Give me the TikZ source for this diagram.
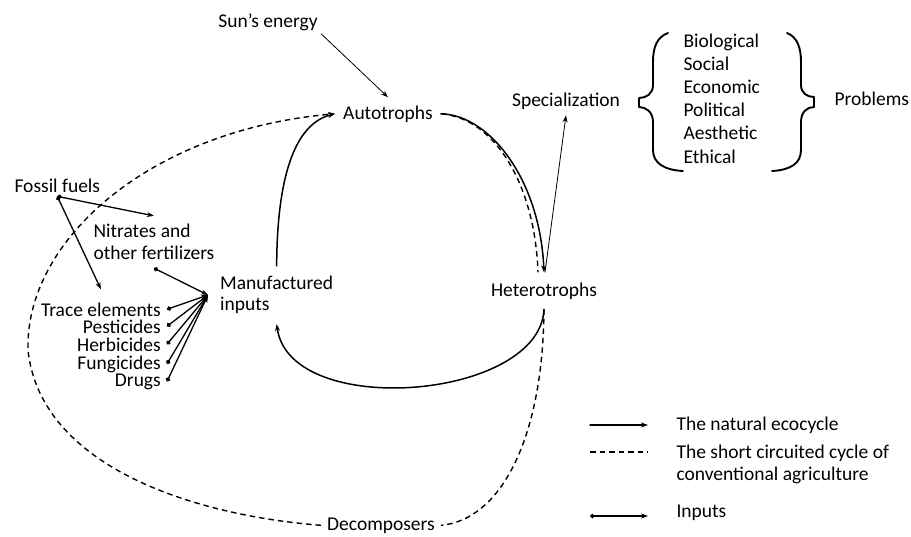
\documentclass[tikz,border=0pt]{standalone}
\usepackage{fontspec}
\setmainfont{Carlito}
\usetikzlibrary{arrows.meta}
\begin{document}
\begin{tikzpicture}[x=1pt, y=-1pt, font=\fontsize{19.5}{23.2}\selectfont, line join=round, line cap=round,
  >={Stealth[length=7pt,width=5pt]},
  cyc/.style={line width=1.5pt,->},
  thinarr/.style={line width=0.8pt,->},
  short/.style={line width=1.4pt,line cap=butt,dash pattern=on 5.5pt off 4pt},
  input/.style={line width=1.3pt,{Circle[length=4.5pt]}->},
  item/.style={anchor=base east, inner xsep=6pt},
  brace/.style={line width=1.9pt}]
\useasboundingbox (0,0) rectangle (911,536);
\node[anchor=base] (sun) at (268,27) {Sun’s energy};
\node[anchor=base, inner xsep=8pt, inner ysep=8pt] (auto) at (388,119) {Autotrophs};
\node[anchor=base, inner ysep=10pt] (hetero) at (544,296) {Heterotrophs};
\node[anchor=base, inner ysep=6pt] (spec) at (566,106) {Specialization};
\node[anchor=base, inner xsep=6pt] (decomp) at (381,530) {Decomposers};
\node[anchor=west, align=left, inner xsep=12pt, inner ysep=10pt] (manuf) at (208,295) {Manufactured\\[-2pt]inputs};
\node[anchor=base west, inner ysep=4pt] (fossil) at (11,192) {Fossil fuels};
\node[anchor=west, align=left, inner ysep=8pt] (nitr) at (90,242) {Nitrates and\\[-1pt]other fertilizers};
\node[item, inner ysep=13pt] (trace) at (167,316) {Trace elements};
\node[item] (pest) at (167,333) {Pesticides};
\node[item] (herb) at (167,351) {Herbicides};
\node[item] (fung) at (167,369) {Fungicides};
\node[item] (drugs) at (167,386) {Drugs};
\node[anchor=north west, align=left] (list) at (680,30) {Biological\\Social\\Economic\\Political\\Aesthetic\\Ethical};
\node[anchor=base west] (probl) at (831,105) {Problems};
\node[anchor=base west] (legNat) at (673,430) {The natural ecocycle};
\node[anchor=north west, align=left, inner ysep=0pt] (legShort) at (673,445) {The short circuited cycle of\\[-1pt]conventional agriculture};
\node[anchor=base west] (legIn) at (673,517) {Inputs};

\draw[thinarr] (sun.south east) -- (auto.north);
\draw[cyc] (manuf.north) .. controls (277,190) and (290,125) .. (auto.west);
\draw[cyc] (auto.east) .. controls (490,115) and (540,180) .. (hetero.north);
\draw[short] (auto.east) .. controls (495,118) and (535,185) .. ([xshift=-6pt]hetero.north);
\draw[cyc] (hetero.south) .. controls (540,400) and (290,420) .. (manuf.south);
\draw[short] (hetero.south) .. controls (543,440) and (500,520) .. (decomp.east);
\draw[short,->] (decomp.west) .. controls (190,515) and (40,465) .. (28,350)
  .. controls (25,240) and (150,130) .. (auto.west);
\draw[thinarr] ([xshift=1pt]hetero.north) -- (spec.south);

\draw[input] (fossil.south) -- (nitr.north);
\draw[input] (fossil.south) -- (trace.north);
\draw[input] (nitr.south) -- (manuf.west);
\foreach \n in {trace,pest,herb,fung,drugs}
  \draw[input] (\n.east) -- (manuf.west);

\draw[brace] (668,33) .. controls (657,37) and (653,47) .. (653,62) -- (653,85)
  .. controls (653,94) and (646,98) .. (639,98) -- (639,107)
  .. controls (646,107) and (653,112) .. (653,122) -- (653,150)
  .. controls (653,163) and (664,170) .. (683,171);
\draw[brace] (787,33) .. controls (797,37) and (801,47) .. (801,62) -- (801,85)
  .. controls (801,93) and (807,97) .. (814,97) -- (814,107)
  .. controls (807,107) and (801,112) .. (801,122) -- (801,150)
  .. controls (801,163) and (791,170) .. (772,171);

\draw[line width=1.1pt,->] (590,425) -- (648,425);
\draw[short] (590,452) -- (648,452);
\draw[line width=1.2pt,{Circle[length=4.5pt]}->] (590,516) -- (648,516);
\end{tikzpicture}
\end{document}
